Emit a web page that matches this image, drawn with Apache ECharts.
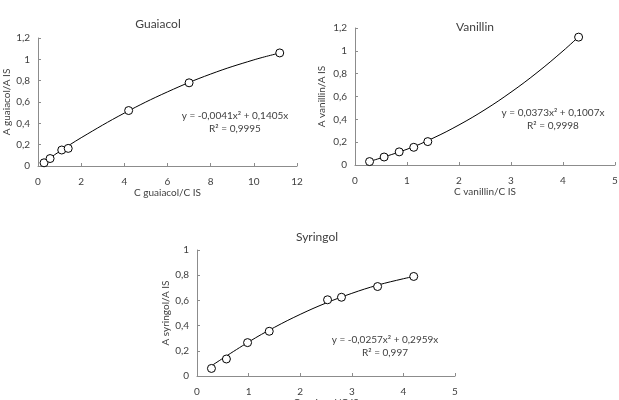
<!DOCTYPE html>
<html>
<head>
<meta charset="utf-8">
<script src="https://cdn.jsdelivr.net/npm/echarts@6/dist/echarts.min.js"></script>
<style>
  html, body { margin: 0; padding: 0; background: #fff; }
  #container { width: 619px; height: 400px; }
</style>
</head>
<body>
<div id="container"></div>
<script>
  // measured points (C analyte / C IS, A analyte / A IS)
  const guaiacolX = [0.28, 0.56, 1.1, 1.4, 4.2, 7.0, 11.2];
  const guaiacolY = [0.03, 0.07, 0.15, 0.165, 0.52, 0.78, 1.06];
  const vanillinX = [0.28, 0.56, 0.85, 1.13, 1.4, 4.3];
  const vanillinY = [0.03, 0.07, 0.115, 0.155, 0.205, 1.12];
  const syringolX = [0.28, 0.57, 0.98, 1.4, 2.53, 2.8, 3.5, 4.2];
  const syringolY = [0.06, 0.135, 0.265, 0.355, 0.605, 0.625, 0.71, 0.79];

  // trendline
  const guaiacolTrendX = [0.28, 1, 2, 4, 6, 8, 10, 11.2];
  const guaiacolTrendY = [0.039, 0.136, 0.265, 0.496, 0.695, 0.862, 0.995, 1.059];
  const vanillinTrendX = [0.28, 1, 1.5, 2, 2.5, 3, 3.5, 4, 4.3];
  const vanillinTrendY = [0.031, 0.138, 0.235, 0.351, 0.485, 0.638, 0.809, 0.999, 1.123];
  const syringolTrendX = [0.28, 1, 1.5, 2, 2.5, 3, 3.5, 4, 4.2];
  const syringolTrendY = [0.081, 0.270, 0.386, 0.489, 0.579, 0.656, 0.721, 0.772, 0.789];

  const titles = ['Guaiacol', 'Vanillin', 'Syringol'];
  const xNames = ['C guaiacol/C IS', 'C vanillin/C IS', 'C syringol/C IS'];
  const yNames = ['A guaiacol/A IS', 'A vanillin/A IS', 'A syringol/A IS'];
  const equations = ['y = -0,0041x² + 0,1405x', 'y = 0,0373x² + 0,1007x', 'y = -0,0257x² + 0,2959x'];
  const rSquared = ['R² = 0,9995', 'R² = 0,9998', 'R² = 0,997'];

  const xMax = [12, 5, 5];
  const xStep = [2, 1, 1];
  const yMax = [1.2, 1.2, 1];

  const FONT = 'Lato';
  const TXT = '#404040';
  const AX = '#8c8c8c';

  function pairs(xs, ys) {
    return xs.map((x, i) => [x, ys[i]]);
  }

  function comma(v) {
    return String(Math.round(v * 10) / 10).replace('.', ',');
  }

  let dom = document.getElementById('container');
  let myChart = echarts.init(dom, null, {renderer: 'canvas'});

  const grids = [
    {left: 38, top: 38, width: 259, height: 128, outerBoundsMode: 'none'},
    {left: 355, top: 28, width: 260, height: 137, outerBoundsMode: 'none'},
    {left: 197, top: 250, width: 258, height: 126, outerBoundsMode: 'none'}
  ];

  const titlePos = [[153, 13], [470, 16], [312, 226]];
  const eqPos = [[235, 109], [553, 106], [385, 333]];
  const yNameGap = [26, 28, 26];
  const xNameGap = [20, 21, 21];

  const xAxes = [];
  const yAxes = [];
  for (let i = 0; i < 3; i++) {
    xAxes.push({
      type: 'value', gridIndex: i, min: 0, max: xMax[i], interval: xStep[i],
      name: xNames[i], nameLocation: 'middle', nameGap: xNameGap[i],
      nameTextStyle: {fontFamily: FONT, fontSize: 10, color: TXT},
      axisLine: {show: true, lineStyle: {color: AX, width: 1}},
      axisTick: {show: true, inside: true, length: 3, lineStyle: {color: AX}},
      axisLabel: {fontFamily: FONT, fontSize: 10, color: TXT, margin: 11, formatter: comma},
      splitLine: {show: false}
    });
    yAxes.push({
      type: 'value', gridIndex: i, min: 0, max: yMax[i], interval: 0.2,
      name: yNames[i], nameLocation: 'middle', nameGap: yNameGap[i],
      nameTextStyle: {fontFamily: FONT, fontSize: 10, color: TXT},
      axisLine: {show: true, lineStyle: {color: AX, width: 1}},
      axisTick: {show: true, inside: true, length: 3, lineStyle: {color: AX}},
      axisLabel: {fontFamily: FONT, fontSize: 10, color: TXT, margin: 8, formatter: comma},
      splitLine: {show: false}
    });
  }

  const trends = [
    pairs(guaiacolTrendX, guaiacolTrendY),
    pairs(vanillinTrendX, vanillinTrendY),
    pairs(syringolTrendX, syringolTrendY)
  ];
  const points = [
    pairs(guaiacolX, guaiacolY),
    pairs(vanillinX, vanillinY),
    pairs(syringolX, syringolY)
  ];

  const series = [];
  for (let i = 0; i < 3; i++) {
    series.push({
      type: 'line', xAxisIndex: i, yAxisIndex: i, data: trends[i],
      smooth: 0.4, showSymbol: false, silent: true,
      lineStyle: {color: '#000', width: 1}, z: 2
    });
    series.push({
      type: 'scatter', xAxisIndex: i, yAxisIndex: i, data: points[i],
      symbol: 'circle', symbolSize: 8,
      itemStyle: {color: '#fff', borderColor: '#000', borderWidth: 1, opacity: 1},
      z: 3
    });
  }

  const titleList = titles.map((t, i) => ({
    text: t, left: titlePos[i][0], top: titlePos[i][1], textAlign: 'center',
    textStyle: {fontFamily: FONT, fontSize: 12, fontWeight: 'normal', color: TXT}
  }));

  const graphic = equations.map((eq, i) => ({
    type: 'text', x: eqPos[i][0], y: eqPos[i][1],
    style: {
      text: eq + '\n' + rSquared[i],
      fontFamily: FONT, fontSize: 10, fill: TXT, lineHeight: 13,
      align: 'center', verticalAlign: 'top'
    },
    z: 10
  }));

  let option = {
    animation: false,
    backgroundColor: '#fff',
    title: titleList,
    grid: grids,
    xAxis: xAxes,
    yAxis: yAxes,
    series: series,
    graphic: graphic
  };

  myChart.setOption(option, true);
</script>
</body>
</html>
